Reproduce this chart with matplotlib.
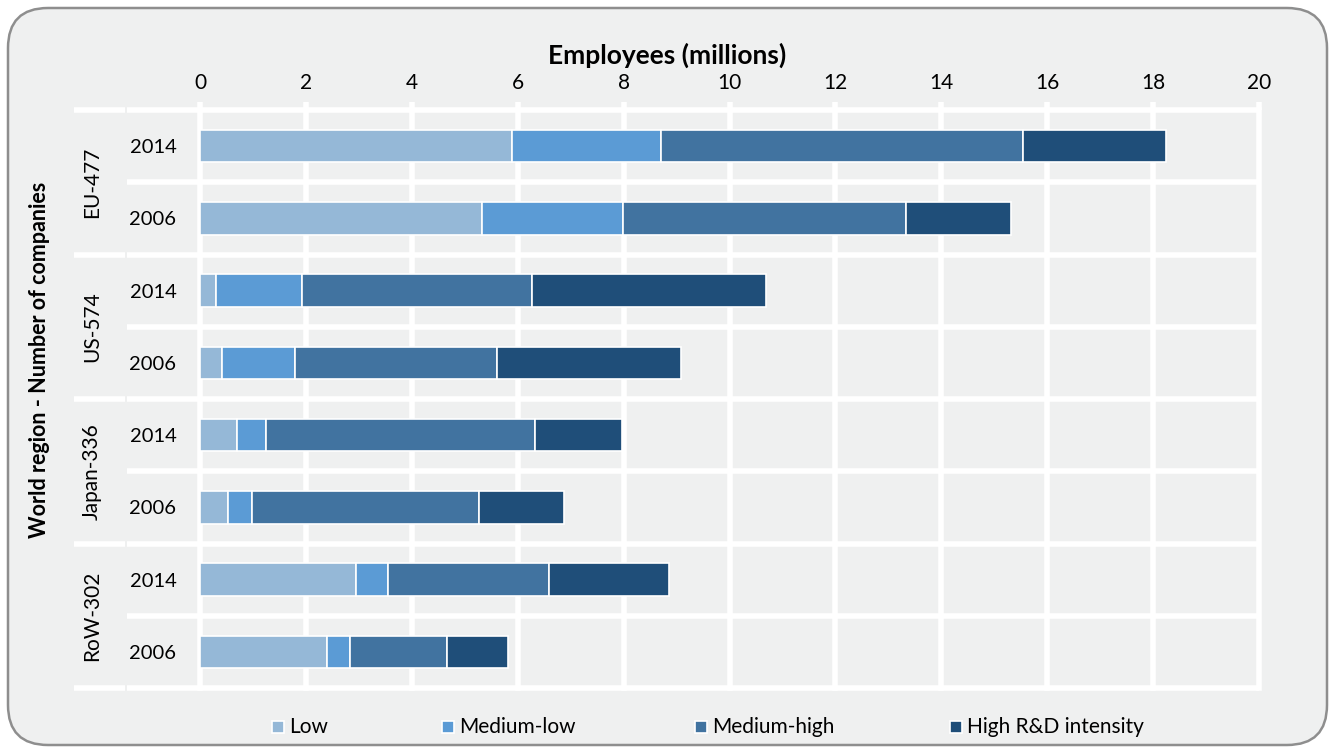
import numpy as np
import matplotlib.pyplot as plt
from matplotlib.patches import FancyBboxPatch, Rectangle

plt.rcParams['font.family'] = ['Lato', 'DejaVu Sans']

#%% Data (employees, millions)
regions = ["EU-477", "US-574", "Japan-336", "RoW-302"]
years = ["2014", "2006"]
series = ["Low", "Medium-low", "Medium-high", "High R&D intensity"]

low = [5.89, 5.33, 0.30, 0.42, 0.70, 0.53, 2.95, 2.40]
medium_low = [2.81, 2.66, 1.62, 1.38, 0.55, 0.45, 0.60, 0.43]
medium_high = [6.84, 5.34, 4.35, 3.80, 5.08, 4.29, 3.04, 1.83]
high = [2.70, 1.99, 4.42, 3.48, 1.64, 1.60, 2.27, 1.16]

colors = ["#95b8d7", "#5b9bd5", "#4173a0", "#1f4e79"]
bg = "#eff0f0"

#%% Figure
W, H = 1335, 753
fig = plt.figure(figsize=(W / 100, H / 100), dpi=100, facecolor="white")

# rounded frame, kept behind the axes
frame = FancyBboxPatch((8 / W, 8 / H), (W - 16) / W, (H - 16) / H,
                       boxstyle="round,pad=0,rounding_size=0.03",
                       transform=fig.transFigure, facecolor=bg,
                       edgecolor="#8e8e8e", linewidth=1.8, mutation_aspect=W / H,
                       zorder=-10)
fig.patches.append(frame)

x0, x1 = 200, 1259
y_top, y_bot = 110, 688
ax = fig.add_axes([x0 / W, 1 - y_bot / H, (x1 - x0) / W, (y_bot - y_top) / H])
ax.set_facecolor(bg)
for s in ax.spines.values():
    s.set_visible(False)

ypos = np.arange(len(low))
left = np.zeros(len(low))
for vals, c, name in zip([low, medium_low, medium_high, high], colors, series):
    ax.barh(ypos, vals, left=left, height=0.45, color=c, edgecolor="white",
            linewidth=1.2, label=name, zorder=3)
    left += np.array(vals)

ax.set_xlim(0, 20)
ax.set_ylim(7.5, -0.5)

# grid in white
ticks = np.arange(0, 21, 2)
for t in ticks:
    ax.axvline(t, color="white", lw=4, clip_on=False, zorder=1)
ytr = ax.get_yaxis_transform()
for k in range(len(low) + 1):
    yy = k - 0.5
    if k % 2 == 0:
        ax.plot([-0.119, -0.071], [yy, yy], color="white", lw=4,
                transform=ytr, clip_on=False, solid_capstyle="butt", zorder=1)
    ax.plot([-0.069, 1.0], [yy, yy], color="white", lw=4,
            transform=ytr, clip_on=False, solid_capstyle="butt", zorder=1)

ax.xaxis.tick_top()
ax.set_xticks(ticks)
ax.set_xticklabels([str(t) for t in ticks], fontsize=15)
ax.tick_params(axis="x", colors="white", length=6, width=4, pad=6,
               labelcolor="black")

fig.text(667 / W, 1 - 55 / H, "Employees (millions)", ha="center", va="center",
         fontsize=19, fontweight="bold")

ax.set_yticks(ypos)
ax.set_yticklabels(years * len(regions), fontsize=14.5)
ax.tick_params(axis="y", length=0, pad=17)

# region labels
for i, r in enumerate(regions):
    ax.text(-0.102, 2 * i + 0.5, r, transform=ytr, rotation=90,
            ha="center", va="center", fontsize=15)

fig.text(40 / W, 1 - 360 / H, "World region - Number of companies", rotation=90,
         ha="center", va="center", fontsize=15.5, fontweight="bold")

# legend
leg_x = [272, 442, 695, 950]
for lx, c, name in zip(leg_x, colors, series):
    fig.patches.append(Rectangle((lx / W, 1 - 733 / H), 12 / W, 12 / H,
                                 transform=fig.transFigure, facecolor=c,
                                 edgecolor="white", linewidth=1.2))
    fig.text((lx + 17) / W, 1 - 727 / H, name, ha="left", va="center",
             fontsize=15)

fig.savefig("out.png", dpi=100, facecolor="white")
